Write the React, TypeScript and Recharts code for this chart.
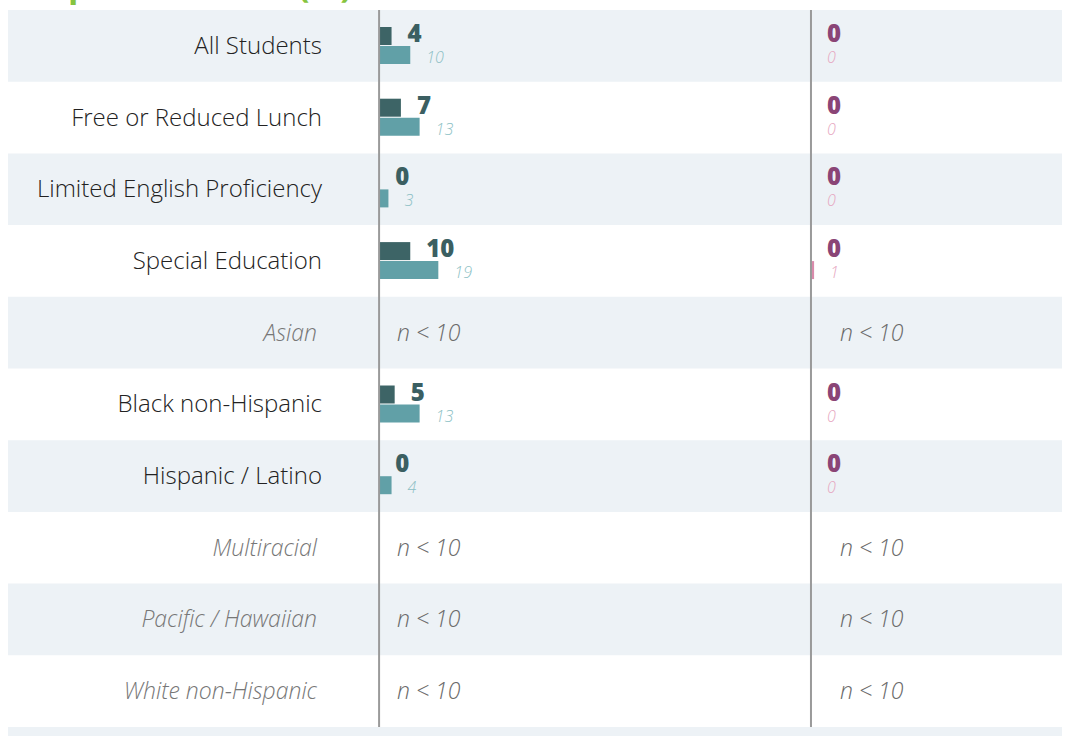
import React from 'react';
import { BarChart, Bar, XAxis, YAxis, ReferenceArea, ReferenceLine, LabelList } from 'recharts';

const categories = [
  'All Students',
  'Free or Reduced Lunch',
  'Limited English Proficiency',
  'Special Education',
  'Asian',
  'Black non-Hispanic',
  'Hispanic / Latino',
  'Multiracial',
  'Pacific / Hawaiian',
  'White non-Hispanic',
];
const leftMain = [4, 7, 0, 10, null, 5, 0, null, null, null];
const leftCompare = [10, 13, 3, 19, null, 13, 4, null, null, null];
const rightMain = [0, 0, 0, 0, null, 0, 0, null, null, null];
const rightCompare = [0, 0, 0, 1, null, 0, 0, null, null, null];
const suppressed = [false, false, false, false, true, false, false, true, true, true];
const SUPPRESSED_TEXT = 'n < 10';
const TITLE = 'Suspension Rate (%)';

const data = categories.map((name, i) => ({
  name,
  lm: leftMain[i],
  lc: leftCompare[i],
  rm: rightMain[i],
  rc: rightCompare[i],
}));

const FONT = '"Open Sans", sans-serif';
const BAND = '#edf2f6';
const DARK_BAR = '#3d6466';
const LIGHT_BAR = '#61a0a7';
const DARK_TXT = '#3b5f62';
const LIGHT_TXT = '#8cbfc5';
const PURPLE_TXT = '#8a4576';
const PINK_TXT = '#e6a6c0';
const PINK_BAR = '#d98bab';
const AXIS_GRAY = '#9a9a9a';

const getBox = (props: any) => {
  const vb = props.viewBox || {};
  const x = Number(props.x ?? vb.x);
  const y = Number(props.y ?? vb.y);
  const width = Number(props.width ?? vb.width);
  const height = Number(props.height ?? vb.height);
  return { x, y, width, height };
};

const mainLabel = (color: string) => (props: any) => {
  if (props.value === null || props.value === undefined) return null;
  const { x, y, width, height } = getBox(props);
  return (
    <text x={x + width + 16} y={y + height - 3} fill={color} fontSize={24} fontWeight={800} fontFamily={FONT}>
      {props.value}
    </text>
  );
};

const compareLabel = (color: string) => (props: any) => {
  if (props.value === null || props.value === undefined) return null;
  const { x, y, width, height } = getBox(props);
  return (
    <text x={x + width + 16} y={y + height - 1} fill={color} fontSize={16} fontStyle="italic" fontWeight={300} fontFamily={FONT}>
      {props.value}
    </text>
  );
};

const CategoryTick = (props: any) => {
  const { y, payload } = props;
  const i = categories.indexOf(payload.value);
  const sup = suppressed[i];
  return (
    <g>
      <text
        x={sup ? 317 : 322}
        y={y}
        dy={8}
        textAnchor="end"
        fontFamily={FONT}
        fontSize={sup ? 23 : 24}
        fontWeight={300}
        fontStyle={sup ? 'italic' : 'normal'}
        fill={sup ? '#777777' : '#222222'}
      >
        {payload.value}
      </text>
      {sup && (
        <>
          <text x={397} y={y} dy={8} fontFamily={FONT} fontSize={23} fontWeight={300} fontStyle="italic" fill="#6a6a6a">
            {SUPPRESSED_TEXT}
          </text>
          <text x={840} y={y} dy={8} fontFamily={FONT} fontSize={23} fontWeight={300} fontStyle="italic" fill="#6a6a6a">
            {SUPPRESSED_TEXT}
          </text>
        </>
      )}
    </g>
  );
};

export default function App() {
  return (
    <div style={{ position: 'absolute', left: 0, top: 0, width: 1066, height: 736, overflow: 'hidden', background: '#ffffff' }}>
      <div
        style={{
          position: 'absolute',
          left: 10,
          top: -33,
          fontFamily: FONT,
          fontSize: 34,
          lineHeight: '34px',
          fontWeight: 700,
          color: '#86c440',
          whiteSpace: 'nowrap',
        }}
      >
        {TITLE}
      </div>
      <div style={{ position: 'absolute', left: 8, top: 727, width: 1054, height: 9, background: BAND }} />
      <BarChart
        width={1066}
        height={736}
        data={data}
        layout="vertical"
        margin={{ top: 10, right: 4, bottom: 9, left: 8 }}
        barSize={18}
        barGap={1}
        style={{ position: 'absolute', left: 0, top: 0 }}
      >
        {categories.map((c, i) =>
          i % 2 === 0 ? (
            <ReferenceArea key={c} xAxisId="L" y1={c} y2={c} fill={BAND} fillOpacity={1} stroke="none" />
          ) : null
        )}
        <XAxis xAxisId="L" type="number" domain={[-119, 219]} allowDataOverflow hide />
        <XAxis xAxisId="R" type="number" domain={[-257.5, 80.5]} allowDataOverflow hide />
        <YAxis
          type="category"
          dataKey="name"
          mirror
          interval={0}
          tickLine={false}
          axisLine={false}
          tick={<CategoryTick />}
        />
        <Bar xAxisId="L" dataKey="lm" stackId="top" fill={DARK_BAR} minPointSize={0.05} isAnimationActive={false}>
          <LabelList dataKey="lm" content={mainLabel(DARK_TXT)} />
        </Bar>
        <Bar xAxisId="L" dataKey="lc" stackId="bottom" fill={LIGHT_BAR} minPointSize={0.05} isAnimationActive={false}>
          <LabelList dataKey="lc" content={compareLabel(LIGHT_TXT)} />
        </Bar>
        <Bar xAxisId="R" dataKey="rm" stackId="top" fill={PURPLE_TXT} minPointSize={0.05} isAnimationActive={false}>
          <LabelList dataKey="rm" content={mainLabel(PURPLE_TXT)} />
        </Bar>
        <Bar xAxisId="R" dataKey="rc" stackId="bottom" fill={PINK_BAR} minPointSize={0.05} isAnimationActive={false}>
          <LabelList dataKey="rc" content={compareLabel(PINK_TXT)} />
        </Bar>
        <ReferenceLine xAxisId="L" x={0} stroke={AXIS_GRAY} strokeWidth={2} />
        <ReferenceLine xAxisId="R" x={0} stroke={AXIS_GRAY} strokeWidth={2} />
      </BarChart>
    </div>
  );
}
